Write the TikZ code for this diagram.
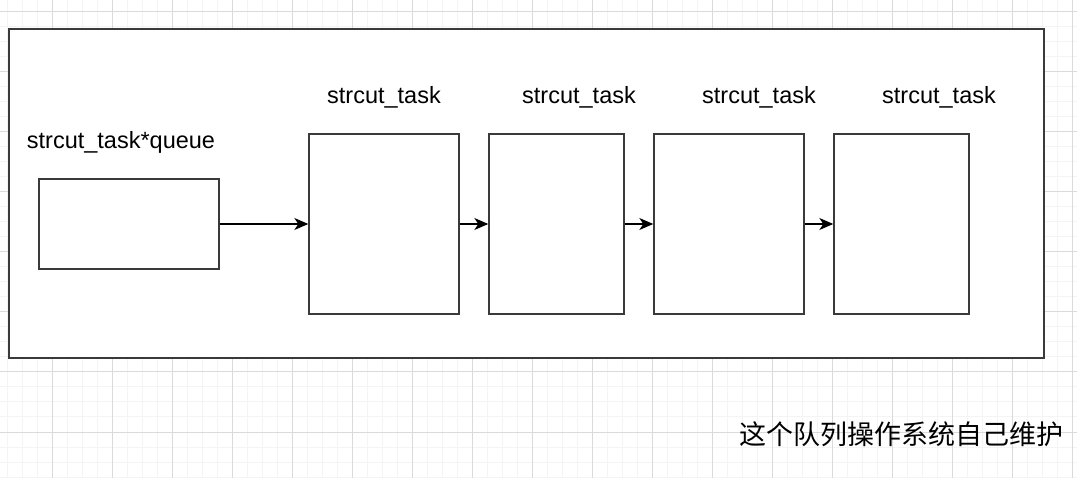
\documentclass[tikz,border=0pt]{standalone}
\usepackage{fontspec}
\setmainfont{Liberation Sans}
\newfontfamily\cjk{Noto Sans CJK SC}
\usetikzlibrary{arrows.meta}
\definecolor{gridminor}{HTML}{F4F4F4}
\definecolor{gridmajor}{HTML}{DADADA}
\definecolor{edge}{HTML}{3A3A3A}

\begin{document}
\begin{tikzpicture}[x=1pt,y=-1pt,
  box/.style={draw=edge,line width=1.4pt,fill=white,inner sep=0pt,minimum height=180pt},
  lbl/.style={anchor=base,inner sep=0pt,font=\fontsize{23.5}{28}\selectfont},
  link/.style={line width=1.3pt,-{Stealth[length=14pt,width=12pt,inset=4pt]}}]
\useasboundingbox (0,0) rectangle (1077,478);
\fill[white] (0,0) rectangle (1077,478);

% grid
\foreach \gx in {7,22,...,1077} \draw[gridminor,line width=1pt] (\gx,0) -- (\gx,478);
\foreach \gy in {12,27,...,478} \draw[gridminor,line width=1pt] (0,\gy) -- (1077,\gy);
\foreach \gx in {52,112,...,1077} \draw[gridmajor,line width=1pt] (\gx,0) -- (\gx,478);
\foreach \gy in {12,72,...,478} \draw[gridmajor,line width=1pt] (0,\gy) -- (1077,\gy);

\node[draw=edge,line width=1.4pt,fill=white,minimum width=1035pt,minimum height=329pt,inner sep=0pt] (frame) at (526.5,193.5) {};

\node[box,minimum width=180pt,minimum height=90pt] (queue) at (129,224) {};
\node[box,minimum width=150pt] (taska) at (384,224) {};
\node[box,minimum width=135pt] (taskb) at (556.5,224) {};
\node[box,minimum width=150pt] (taskc) at (729,224) {};
\node[box,minimum width=135pt] (taskd) at (901.5,224) {};

\node[lbl] (qlabel) at (121,149) {strcut\_task*queue};
\node[lbl] (alabel) at (384,104) {strcut\_task};
\node[lbl] (blabel) at (579,104) {strcut\_task};
\node[lbl] (clabel) at (759,104) {strcut\_task};
\node[lbl] (dlabel) at (939,104) {strcut\_task};

\draw[link] (queue) -- (taska);
\draw[link] (taska) -- (taskb);
\draw[link] (taskb) -- (taskc);
\draw[link] (taskc) -- (taskd);

\node[inner sep=0pt,font=\cjk\fontsize{27}{30}\selectfont] (note) at (901,434) {这个队列操作系统自己维护};
\end{tikzpicture}
\end{document}
